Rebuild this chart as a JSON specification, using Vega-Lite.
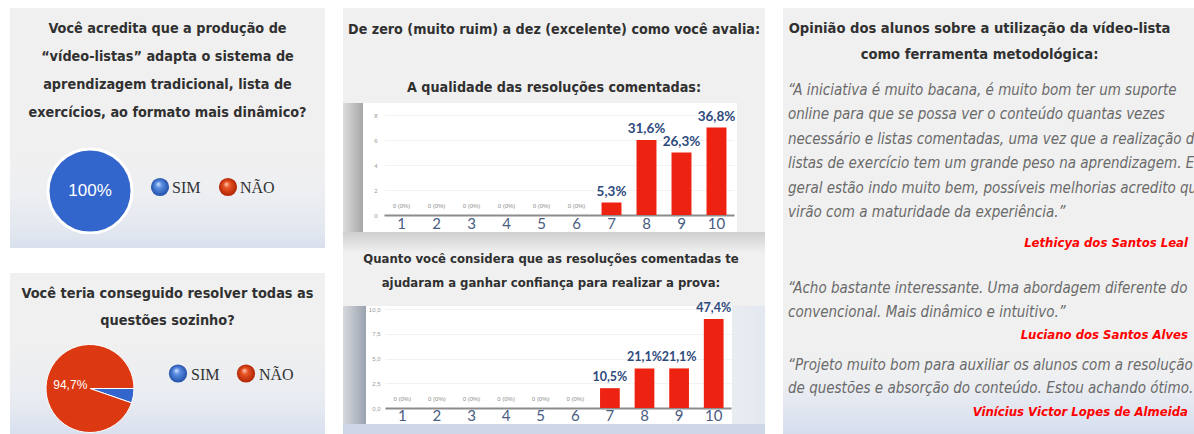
{
  "$schema": "https://vega.github.io/schema/vega-lite/v6.json",
  "background": "white",
  "padding": {"left": 10, "top": 8, "right": 0, "bottom": 0},
  "config": {
    "view": {"stroke": null},
    "locale": {"number": {"decimal": ",", "thousands": ".", "grouping": [3], "currency": ["R$", ""]}}
  },
  "spacing": 18,
  "hconcat": [
    {
      "spacing": 0,
      "bounds": "flush",
      "vconcat": [
        {
          "width": 315, "height": 140,
          "view": {"fill": "#f0f0f0"},
          "data": {"values": [
            {"line": 1, "text": "Você acredita que a produção de"},
            {"line": 2, "text": "“vídeo-listas” adapta o sistema de"},
            {"line": 3, "text": "aprendizagem tradicional, lista de"},
            {"line": 4, "text": "exercícios, ao formato mais dinâmico?"}
          ]},
          "mark": {"type": "text", "font": "DejaVu Sans Condensed, sans-serif", "fontSize": 14.3, "fontWeight": "bold", "color": "#303030", "baseline": "middle"},
          "encoding": {
            "y": {"field": "line", "type": "ordinal", "axis": null, "scale": {"type": "point", "padding": 1.093, "align": 0.373}},
            "text": {"field": "text"}
          }
        },
        {
          "width": 315, "height": 86,
          "view": {"fill": {"gradient": "linear", "x1": 0, "y1": 0, "x2": 0, "y2": 1, "stops": [{"offset": 0, "color": "#f0f0f0"}, {"offset": 0.5, "color": "#eeeff2"}, {"offset": 1, "color": "#e1e6ef"}]}},
          "data": {"values": [{"answer": "SIM", "value": 100, "pct": "100%"}, {"answer": "NÃO", "value": 0, "pct": "0%"}]},
          "resolve": {"scale": {"x": "independent"}},
          "layer": [
            {
              "transform": [{"filter": "datum.value > 0"}],
              "mark": {"type": "arc", "outerRadius": 42, "stroke": "white", "strokeWidth": 3},
              "encoding": {
                "x": {"datum": "pie", "type": "nominal", "axis": null, "scale": {"type": "point", "domain": ["pie"], "padding": 0, "align": 0.254}},
                "theta": {"field": "value", "type": "quantitative", "stack": true},
                "color": {"field": "answer", "type": "nominal", "legend": null, "scale": {"domain": ["SIM", "NÃO"], "range": ["#3366cc", "#dc3912"]}}
              }
            },
            {
              "transform": [{"filter": "datum.value > 0"}],
              "mark": {"type": "text", "font": "Liberation Sans, sans-serif", "fontSize": 17, "color": "white", "baseline": "middle"},
              "encoding": {
                "x": {"datum": "pie", "type": "nominal", "axis": null, "scale": {"type": "point", "domain": ["pie"], "padding": 0, "align": 0.254}},
                "text": {"field": "pct"}
              }
            },
            {
              "transform": [{"filter": "datum.answer === 'SIM'"}],
              "mark": {"type": "point", "shape": "circle", "filled": true, "size": 330, "opacity": 1, "strokeWidth": 0, "yOffset": -4,
                "fill": {"gradient": "radial", "x1": 0.4, "y1": 0.32, "r1": 0, "x2": 0.5, "y2": 0.5, "r2": 0.5, "stops": [{"offset": 0, "color": "#dce8ff"}, {"offset": 0.35, "color": "#5b8fe4"}, {"offset": 1, "color": "#2350a8"}]}},
              "encoding": {"x": {"field": "answer", "type": "nominal", "axis": null, "scale": {"type": "point", "domain": ["SIM", "NÃO"], "range": [150, 218], "padding": 0}}}
            },
            {
              "transform": [{"filter": "datum.answer === 'NÃO'"}],
              "mark": {"type": "point", "shape": "circle", "filled": true, "size": 330, "opacity": 1, "strokeWidth": 0, "yOffset": -4,
                "fill": {"gradient": "radial", "x1": 0.4, "y1": 0.32, "r1": 0, "x2": 0.5, "y2": 0.5, "r2": 0.5, "stops": [{"offset": 0, "color": "#ffd4c0"}, {"offset": 0.35, "color": "#e85424"}, {"offset": 1, "color": "#b02405"}]}},
              "encoding": {"x": {"field": "answer", "type": "nominal", "axis": null, "scale": {"type": "point", "domain": ["SIM", "NÃO"], "range": [150, 218], "padding": 0}}}
            },
            {
              "mark": {"type": "text", "align": "left", "dx": 12, "yOffset": -3, "font": "Liberation Serif, serif", "fontSize": 16, "color": "#333333", "baseline": "middle"},
              "encoding": {
                "x": {"field": "answer", "type": "nominal", "axis": null, "scale": {"type": "point", "domain": ["SIM", "NÃO"], "range": [150, 218], "padding": 0}},
                "text": {"field": "answer"}
              }
            }
          ]
        },
        {
          "width": 315, "height": 14,
          "view": {"fill": {"gradient": "linear", "x1": 0, "y1": 0, "x2": 0, "y2": 1, "stops": [{"offset": 0, "color": "#e1e6ef"}, {"offset": 1, "color": "#d9e0ed"}]}},
          "data": {"values": [{}]},
          "mark": {"type": "text", "text": ""},
          "encoding": {}
        },
        {
          "width": 315, "height": 25,
          "view": {"fill": "white"},
          "data": {"values": [{}]},
          "mark": {"type": "text", "text": ""},
          "encoding": {}
        },
        {
          "width": 315, "height": 70,
          "view": {"fill": "#f0f0f0"},
          "data": {"values": [
            {"line": 1, "text": "Você teria conseguido resolver todas as"},
            {"line": 2, "text": "questões sozinho?"}
          ]},
          "mark": {"type": "text", "font": "DejaVu Sans Condensed, sans-serif", "fontSize": 14.4, "fontWeight": "bold", "color": "#303030", "baseline": "middle"},
          "encoding": {
            "y": {"field": "line", "type": "ordinal", "axis": null, "scale": {"type": "point", "padding": 0.796, "align": 0.488}},
            "text": {"field": "text"}
          }
        },
        {
          "width": 315, "height": 91,
          "view": {"fill": {"gradient": "linear", "x1": 0, "y1": 0, "x2": 0, "y2": 1, "stops": [{"offset": 0, "color": "#f0f0f0"}, {"offset": 0.6, "color": "#e9ecf1"}, {"offset": 1, "color": "#d9e0ee"}]}},
          "data": {"values": [{"answer": "SIM", "value": 5.3, "pct": "5,3%"}, {"answer": "NÃO", "value": 94.7, "pct": "94,7%"}]},
          "resolve": {"scale": {"x": "independent"}},
          "layer": [
            {
              "mark": {"type": "arc", "outerRadius": 44, "stroke": "white", "strokeWidth": 1},
              "encoding": {
                "x": {"datum": "pie", "type": "nominal", "axis": null, "scale": {"type": "point", "domain": ["pie"], "padding": 0, "align": 0.254}},
                "theta": {"field": "value", "type": "quantitative", "stack": true, "scale": {"range": [1.5708, 7.854]}},
                "order": {"field": "answer", "sort": "descending"},
                "color": {"field": "answer", "type": "nominal", "legend": null, "scale": {"domain": ["SIM", "NÃO"], "range": ["#3366cc", "#dc3912"]}}
              }
            },
            {
              "mark": {"type": "text", "radius": 20, "font": "Liberation Sans, sans-serif", "fontSize": 12, "color": "white", "baseline": "middle"},
              "encoding": {
                "x": {"datum": "pie", "type": "nominal", "axis": null, "scale": {"type": "point", "domain": ["pie"], "padding": 0, "align": 0.254}},
                "theta": {"field": "value", "type": "quantitative", "stack": true},
                "order": {"field": "answer", "sort": "descending"},
                "text": {"condition": {"test": "datum.answer === 'NÃO'", "field": "pct"}, "value": ""}
              }
            },
            {
              "transform": [{"filter": "datum.answer === 'SIM'"}],
              "mark": {"type": "point", "shape": "circle", "filled": true, "size": 330, "opacity": 1, "strokeWidth": 0, "yOffset": -15,
                "fill": {"gradient": "radial", "x1": 0.4, "y1": 0.32, "r1": 0, "x2": 0.5, "y2": 0.5, "r2": 0.5, "stops": [{"offset": 0, "color": "#dce8ff"}, {"offset": 0.35, "color": "#5b8fe4"}, {"offset": 1, "color": "#2350a8"}]}},
              "encoding": {"x": {"field": "answer", "type": "nominal", "axis": null, "scale": {"type": "point", "domain": ["SIM", "NÃO"], "range": [168, 236], "padding": 0}}}
            },
            {
              "transform": [{"filter": "datum.answer === 'NÃO'"}],
              "mark": {"type": "point", "shape": "circle", "filled": true, "size": 330, "opacity": 1, "strokeWidth": 0, "yOffset": -15,
                "fill": {"gradient": "radial", "x1": 0.4, "y1": 0.32, "r1": 0, "x2": 0.5, "y2": 0.5, "r2": 0.5, "stops": [{"offset": 0, "color": "#ffd4c0"}, {"offset": 0.35, "color": "#e85424"}, {"offset": 1, "color": "#b02405"}]}},
              "encoding": {"x": {"field": "answer", "type": "nominal", "axis": null, "scale": {"type": "point", "domain": ["SIM", "NÃO"], "range": [168, 236], "padding": 0}}}
            },
            {
              "mark": {"type": "text", "align": "left", "dx": 13, "yOffset": -14, "font": "Liberation Serif, serif", "fontSize": 16, "color": "#333333", "baseline": "middle"},
              "encoding": {
                "x": {"field": "answer", "type": "nominal", "axis": null, "scale": {"type": "point", "domain": ["SIM", "NÃO"], "range": [168, 236], "padding": 0}},
                "text": {"field": "answer"}
              }
            }
          ]
        }
      ]
    },
    {
      "spacing": 0,
      "bounds": "flush",
      "vconcat": [
        {
          "width": 422, "height": 95,
          "view": {"fill": "#f0f0f0"},
          "data": {"values": [
            {"line": 1, "text": "De zero (muito ruim) a dez (excelente) como você avalia:"},
            {"line": 2, "text": "A qualidade das resoluções comentadas:"}
          ]},
          "mark": {"type": "text", "font": "DejaVu Sans Condensed, sans-serif", "fontSize": 14.2, "fontWeight": "bold", "color": "#303030", "baseline": "middle"},
          "encoding": {
            "y": {"field": "line", "type": "ordinal", "axis": null, "scale": {"type": "point", "padding": 0.319, "align": 0.595}},
            "text": {"field": "text"}
          }
        },
        {
          "width": 422, "height": 129,
          "view": {"fill": {"gradient": "linear", "x1": 0, "y1": 0, "x2": 1, "y2": 0, "stops": [{"offset": 0, "color": "#dcdcdc"}, {"offset": 0.0474, "color": "#a6a6a6"}, {"offset": 0.0474, "color": "#ffffff"}, {"offset": 0.9336, "color": "#ffffff"}, {"offset": 0.9336, "color": "#f0f0f0"}, {"offset": 1, "color": "#f0f0f0"}]}},
          "data": {"values": [
            {"nota": 1, "count": 0, "pct": "0 (0%)"},
            {"nota": 2, "count": 0, "pct": "0 (0%)"},
            {"nota": 3, "count": 0, "pct": "0 (0%)"},
            {"nota": 4, "count": 0, "pct": "0 (0%)"},
            {"nota": 5, "count": 0, "pct": "0 (0%)"},
            {"nota": 6, "count": 0, "pct": "0 (0%)"},
            {"nota": 7, "count": 1, "pct": "5,3%"},
            {"nota": 8, "count": 6, "pct": "31,6%"},
            {"nota": 9, "count": 5, "pct": "26,3%"},
            {"nota": 10, "count": 7, "pct": "36,8%"}
          ]},
          "encoding": {
            "x": {"field": "nota", "type": "ordinal", "scale": {"range": [41, 391], "paddingInner": 0.43, "paddingOuter": 0.215},
              "axis": {"title": null, "offset": -17, "domainColor": "#8c8c8c", "domainWidth": 2, "ticks": false, "labelAngle": 0, "labelFont": "Lato, sans-serif", "labelFontSize": 15, "labelColor": "#4a5b82", "labelPadding": 1, "labelBaseline": "top"}},
            "y": {"field": "count", "type": "quantitative", "scale": {"domain": [0, 8], "range": [112, 12], "nice": false, "zero": true},
              "axis": {"title": null, "offset": -36, "domain": false, "ticks": false, "values": [0, 2, 4, 6, 8], "labelFont": "Liberation Sans, sans-serif", "labelFontSize": 6, "labelColor": "#9a9a9a", "labelPadding": 2, "grid": true, "gridColor": "#ececec", "gridOpacity": 0.7}}
          },
          "layer": [
            {"mark": {"type": "bar", "color": "#ee2211"}},
            {
              "transform": [{"filter": "datum.count > 0"}],
              "mark": {"type": "text", "dy": -11, "font": "Lato, sans-serif", "fontWeight": "bold", "fontSize": 13.5, "color": "#2e4a7d", "baseline": "middle"},
              "encoding": {"text": {"field": "pct"}}
            },
            {
              "transform": [{"filter": "datum.count == 0"}],
              "mark": {"type": "text", "dy": -9, "font": "Liberation Sans, sans-serif", "fontSize": 6, "color": "#8c8c8c", "baseline": "middle"},
              "encoding": {"text": {"field": "pct"}}
            }
          ]
        },
        {
          "width": 422, "height": 74,
          "view": {"fill": {"gradient": "linear", "x1": 0, "y1": 0, "x2": 0, "y2": 1, "stops": [{"offset": 0, "color": "#cfcfcf"}, {"offset": 0.28, "color": "#f0f0f0"}, {"offset": 1, "color": "#f0f0f0"}]}},
          "data": {"values": [
            {"line": 1, "text": "Quanto você considera que as resoluções comentadas te"},
            {"line": 2, "text": "ajudaram a ganhar confiança para realizar a prova:"}
          ]},
          "mark": {"type": "text", "dx": -3, "font": "DejaVu Sans Condensed, sans-serif", "fontSize": 13, "fontWeight": "bold", "color": "#303030", "baseline": "middle"},
          "encoding": {
            "y": {"field": "line", "type": "ordinal", "axis": null, "scale": {"type": "point", "padding": 1.04, "align": 0.54}},
            "text": {"field": "text"}
          }
        },
        {
          "width": 422, "height": 118,
          "view": {"fill": {"gradient": "linear", "x1": 0, "y1": 0, "x2": 1, "y2": 0, "stops": [{"offset": 0, "color": "#d6d8dc"}, {"offset": 0.0545, "color": "#9ba2b0"}, {"offset": 0.0545, "color": "#ffffff"}, {"offset": 0.9218, "color": "#ffffff"}, {"offset": 0.9218, "color": "#e9ecf1"}, {"offset": 1, "color": "#e3e8f0"}]}},
          "data": {"values": [
            {"nota": 1, "count": 0, "pct": "0 (0%)"},
            {"nota": 2, "count": 0, "pct": "0 (0%)"},
            {"nota": 3, "count": 0, "pct": "0 (0%)"},
            {"nota": 4, "count": 0, "pct": "0 (0%)"},
            {"nota": 5, "count": 0, "pct": "0 (0%)"},
            {"nota": 6, "count": 0, "pct": "0 (0%)"},
            {"nota": 7, "count": 2, "pct": "10,5%"},
            {"nota": 8, "count": 4, "pct": "21,1%"},
            {"nota": 9, "count": 4, "pct": "21,1%"},
            {"nota": 10, "count": 9, "pct": "47,4%"}
          ]},
          "encoding": {
            "x": {"field": "nota", "type": "ordinal", "scale": {"range": [42, 388], "paddingInner": 0.43, "paddingOuter": 0.215},
              "axis": {"title": null, "offset": -16, "domainColor": "#8c8c8c", "domainWidth": 2, "ticks": false, "labelAngle": 0, "labelFont": "Lato, sans-serif", "labelFontSize": 15, "labelColor": "#4a5b82", "labelPadding": 0, "labelBaseline": "top"}},
            "y": {"field": "count", "type": "quantitative", "scale": {"domain": [0, 10], "range": [102, 3], "nice": false, "zero": true},
              "axis": {"title": null, "offset": -39, "domain": false, "ticks": false, "values": [0, 2.5, 5, 7.5, 10], "format": ".1f", "labelFont": "Liberation Sans, sans-serif", "labelFontSize": 6, "labelColor": "#9a9a9a", "labelPadding": 2, "grid": true, "gridColor": "#ececec", "gridOpacity": 0.7}}
          },
          "layer": [
            {"mark": {"type": "bar", "color": "#ee2211"}},
            {
              "transform": [{"filter": "datum.count > 0"}],
              "mark": {"type": "text", "dy": -11, "font": "Lato, sans-serif", "fontWeight": "bold", "fontSize": 12.5, "color": "#2e4a7d", "baseline": "middle"},
              "encoding": {"text": {"field": "pct"}}
            },
            {
              "transform": [{"filter": "datum.count == 0"}],
              "mark": {"type": "text", "dy": -9, "font": "Liberation Sans, sans-serif", "fontSize": 6, "color": "#8c8c8c", "baseline": "middle"},
              "encoding": {"text": {"field": "pct"}}
            }
          ]
        },
        {
          "width": 422, "height": 10,
          "view": {"fill": "#cdd5e6"},
          "data": {"values": [{}]},
          "mark": {"type": "text", "text": ""},
          "encoding": {}
        }
      ]
    },
    {
      "spacing": 0,
      "bounds": "flush",
      "vconcat": [
        {
          "width": 411, "height": 64,
          "view": {"fill": "#f0f0f0"},
          "data": {"values": [
            {"line": 1, "text": "Opinião dos alunos sobre a utilização da vídeo-lista"},
            {"line": 2, "text": "como ferramenta metodológica:"}
          ]},
          "mark": {"type": "text", "dx": -9, "font": "DejaVu Sans Condensed, sans-serif", "fontSize": 14.6, "fontWeight": "bold", "color": "#303030", "baseline": "middle"},
          "encoding": {
            "y": {"field": "line", "type": "ordinal", "axis": null, "scale": {"type": "point", "padding": 0.731, "align": 0.553}},
            "text": {"field": "text"}
          }
        },
        {
          "width": 411, "height": 156,
          "view": {"fill": "#f0f0f0"},
          "data": {"values": [
            {"line": 1, "role": "quote", "text": "“A iniciativa é muito bacana, é muito bom ter um suporte"},
            {"line": 2, "role": "quote", "text": "online para que se possa ver o conteúdo quantas vezes"},
            {"line": 3, "role": "quote", "text": "necessário e listas comentadas, uma vez que a realização de"},
            {"line": 4, "role": "quote", "text": "listas de exercício tem um grande peso na aprendizagem. Em"},
            {"line": 5, "role": "quote", "text": "geral estão indo muito bem, possíveis melhorias acredito que"},
            {"line": 6, "role": "quote", "text": "virão com a maturidade da experiência.”"}
          ]},
          "mark": {"type": "text", "align": "left", "dx": 5, "clip": true, "font": "DejaVu Sans Condensed, sans-serif", "fontSize": 15, "fontStyle": "italic", "color": "#6a6a6a", "baseline": "middle"},
          "encoding": {
            "x": {"field": "role", "type": "nominal", "axis": null, "scale": {"type": "point", "domain": ["quote", "author"], "padding": 0}},
            "y": {"field": "line", "type": "ordinal", "axis": null, "scale": {"type": "point", "padding": 0.697, "align": 0.53}},
            "text": {"field": "text"}
          }
        },
        {
          "width": 411, "height": 30,
          "view": {"fill": "#f0f0f0"},
          "data": {"values": [{"line": 1, "role": "author", "text": "Lethicya dos Santos Leal"}]},
          "mark": {"type": "text", "align": "right", "dx": -6, "font": "DejaVu Sans Condensed, sans-serif", "fontSize": 13, "fontStyle": "italic", "fontWeight": "bold", "color": "#ff0000", "baseline": "middle"},
          "encoding": {
            "x": {"field": "role", "type": "nominal", "axis": null, "scale": {"type": "point", "domain": ["quote", "author"], "padding": 0}},
            "text": {"field": "text"}
          }
        },
        {
          "width": 411, "height": 92,
          "view": {"fill": "#f0f0f0"},
          "data": {"values": [
            {"line": 1, "role": "quote", "text": "“Acho bastante interessante. Uma abordagem diferente do"},
            {"line": 2, "role": "quote", "text": "convencional. Mais dinâmico e intuitivo.”"},
            {"line": 3, "role": "author", "text": "Luciano dos Santos Alves"}
          ]},
          "encoding": {
            "x": {"field": "role", "type": "nominal", "axis": null, "scale": {"type": "point", "domain": ["quote", "author"], "padding": 0}},
            "y": {"field": "line", "type": "ordinal", "axis": null, "scale": {"type": "point", "padding": 0.957, "align": 0.667}},
            "text": {"field": "text"}
          },
          "layer": [
            {
              "transform": [{"filter": "datum.role === 'quote'"}],
              "mark": {"type": "text", "align": "left", "dx": 5, "clip": true, "font": "DejaVu Sans Condensed, sans-serif", "fontSize": 15, "fontStyle": "italic", "color": "#6a6a6a", "baseline": "middle"}
            },
            {
              "transform": [{"filter": "datum.role === 'author'"}],
              "mark": {"type": "text", "align": "right", "dx": -6, "font": "DejaVu Sans Condensed, sans-serif", "fontSize": 13, "fontStyle": "italic", "fontWeight": "bold", "color": "#ff0000", "baseline": "middle"}
            }
          ]
        },
        {
          "width": 411, "height": 84,
          "view": {"fill": {"gradient": "linear", "x1": 0, "y1": 0, "x2": 0, "y2": 1, "stops": [{"offset": 0, "color": "#f0f0f0"}, {"offset": 0.35, "color": "#eeeff2"}, {"offset": 1, "color": "#d6deee"}]}},
          "data": {"values": [
            {"line": 1, "role": "quote", "text": "“Projeto muito bom para auxiliar os alunos com a resolução"},
            {"line": 2, "role": "quote", "text": "de questões e absorção do conteúdo. Estou achando ótimo.”"},
            {"line": 3, "role": "author", "text": "Vinícius Victor Lopes de Almeida"}
          ]},
          "encoding": {
            "x": {"field": "role", "type": "nominal", "axis": null, "scale": {"type": "point", "domain": ["quote", "author"], "padding": 0}},
            "y": {"field": "line", "type": "ordinal", "axis": null, "scale": {"type": "point", "padding": 0.787, "align": 0.405}},
            "text": {"field": "text"}
          },
          "layer": [
            {
              "transform": [{"filter": "datum.role === 'quote'"}],
              "mark": {"type": "text", "align": "left", "dx": 5, "clip": true, "font": "DejaVu Sans Condensed, sans-serif", "fontSize": 15, "fontStyle": "italic", "color": "#6a6a6a", "baseline": "middle"}
            },
            {
              "transform": [{"filter": "datum.role === 'author'"}],
              "mark": {"type": "text", "align": "right", "dx": -6, "font": "DejaVu Sans Condensed, sans-serif", "fontSize": 13, "fontStyle": "italic", "fontWeight": "bold", "color": "#ff0000", "baseline": "middle"}
            }
          ]
        }
      ]
    }
  ]
}
